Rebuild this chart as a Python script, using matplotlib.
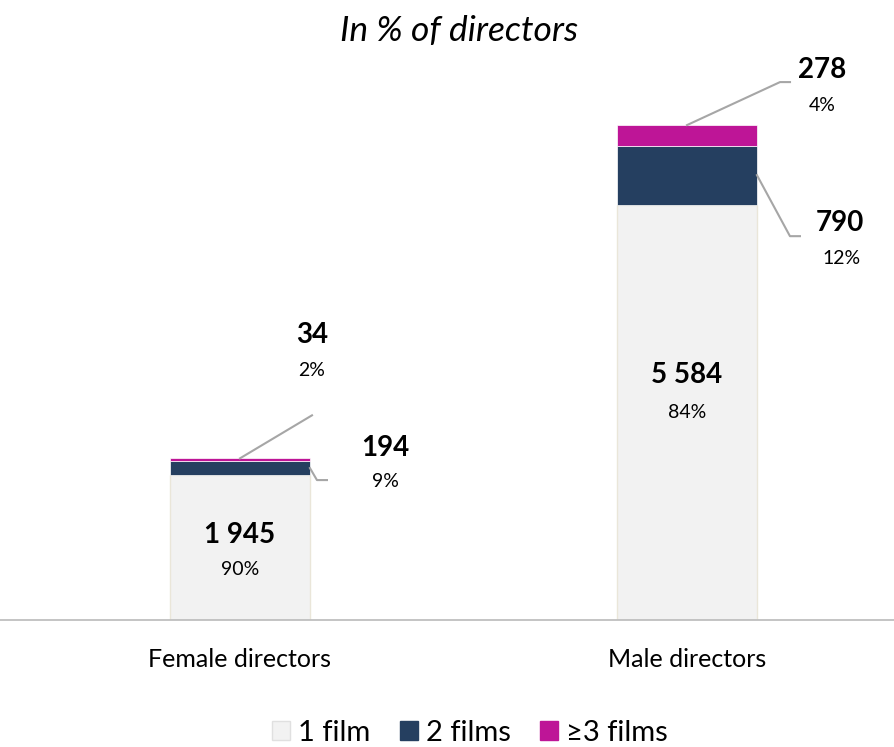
import matplotlib.pyplot as plt
from matplotlib.lines import Line2D
from matplotlib.patches import Patch

plt.rcParams['font.family'] = ['Lato', 'DejaVu Sans']

# données
categories = ["Female directors", "Male directors"]
series_names = ["1 film", "2 films", "≥3 films"]
one_film = [1945, 5584]
two_films = [194, 790]
three_films = [34, 278]
pct_one = ["90%", "84%"]
pct_two = ["9%", "12%"]
pct_three = ["2%", "4%"]

colors = ["#F2F2F2", "#253F60", "#BE1597"]

fig = plt.figure(figsize=(8.95, 7.47), dpi=100)
# axes: x 0..895 px, y 60..620 px (from top)
ax = fig.add_axes([0, 127 / 747, 1, 560 / 747])

x = [0, 1]
w = 0.313
ax.bar(x, one_film, w, color=colors[0], edgecolor="#EAE6D9", linewidth=1)
ax.bar(x, two_films, w, bottom=one_film, color=colors[1], edgecolor="white", linewidth=0.5)
bottom3 = [a + b for a, b in zip(one_film, two_films)]
ax.bar(x, three_films, w, bottom=bottom3, color=colors[2], edgecolor="white", linewidth=0.5)

ax.set_xlim(-240 / 447, 655 / 447)
ax.set_ylim(0, 560 / 0.0744)

for s in ["top", "right", "left"]:
    ax.spines[s].set_visible(False)
ax.spines["bottom"].set_color("#BFBFBF")
ax.spines["bottom"].set_linewidth(1.3)
ax.set_yticks([])
ax.set_xticks(x)
ax.set_xticklabels(categories, fontsize=18)
ax.tick_params(axis="x", length=0, pad=20)

fig.text(459 / 895, 1 - 31 / 747, "In % of directors", ha="center", va="center",
         fontsize=25.5, style="italic")


def label(xa, ya, dx, dy, txt, bold):
    ax.annotate(txt, (xa, ya), xytext=(dx, dy), textcoords="offset pixels",
                ha="center", va="center",
                fontsize=20 if bold else 14,
                fontweight="bold" if bold else "normal")


def leader(xa, ya, pts):
    x0, y0 = ax.transData.transform((xa, ya))
    xs = [x0] + [x0 + p[0] for p in pts]
    ys = [y0] + [y0 + p[1] for p in pts]
    fig.add_artist(Line2D(xs, ys, transform=None, color="#A6A6A6", linewidth=1.5))


fmt = lambda v: f"{v:,}".replace(",", " ")

# 1 film (inside)
label(0, one_film[0] / 2, 0, 13, fmt(one_film[0]), True)
label(0, one_film[0] / 2, 0, -22, pct_one[0], False)
label(1, one_film[1] / 2, 0, 37, fmt(one_film[1]), True)
label(1, one_film[1] / 2, 0, 0, pct_one[1], False)

# 2 films
y2f = one_film[0] + two_films[0] / 2
leader(w / 2, y2f, [(7, -12), (17, -12)])
label(w / 2, y2f, 75, 20, fmt(two_films[0]), True)
label(w / 2, y2f, 75, -13, pct_two[0], False)
y2m = one_film[1] + two_films[1] / 2
leader(1 + w / 2, y2m, [(33, -61), (43, -61)])
label(1 + w / 2, y2m, 83, -48, fmt(two_films[1]), True)
label(1 + w / 2, y2m, 85, -83, pct_two[1], False)

# 3 films
top_f = bottom3[0] + three_films[0]
leader(0, top_f, [(72, 43)])
label(0, top_f, 72, 123, fmt(three_films[0]), True)
label(0, top_f, 72, 88, pct_three[0], False)
top_m = bottom3[1] + three_films[1]
leader(1, top_m, [(93, 43), (103, 43)])
label(1, top_m, 135, 55, fmt(three_films[1]), True)
label(1, top_m, 135, 20, pct_three[1], False)

handles = [Patch(facecolor=c, edgecolor=("#E0E0E0" if i == 0 else c)) for i, c in enumerate(colors)]
fig.legend(handles, series_names, loc="center left", bbox_to_anchor=(272 / 895, 1 - 733 / 747),
           ncol=3, frameon=False, fontsize=21, handlelength=0.62, handleheight=0.62,
           handletextpad=0.28, columnspacing=1.0, borderpad=0, borderaxespad=0)

fig.savefig("out.png", dpi=100)
